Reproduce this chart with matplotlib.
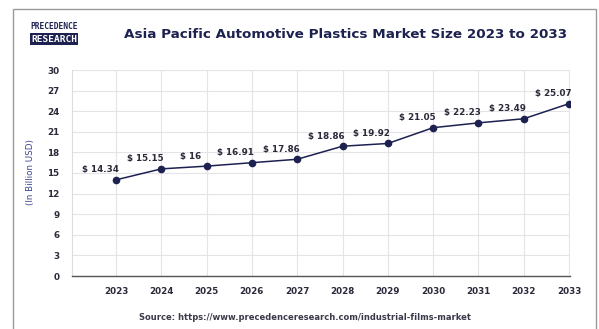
import numpy as np
import matplotlib.pyplot as plt
from matplotlib.patches import Rectangle

years = [2023, 2024, 2025, 2026, 2027, 2028, 2029, 2030, 2031, 2032, 2033]
# point heights as drawn in the picture
values = [14.0, 15.6, 16.0, 16.5, 17.0, 18.9, 19.3, 21.6, 22.3, 22.9, 25.1]
# value labels as printed
labels = ['14.34', '15.15', '16', '16.91', '17.86', '18.86', '19.92',
          '21.05', '22.23', '23.49', '25.07']
yticks = np.arange(0, 31, 3)

navy = '#1d2150'
fig = plt.figure(figsize=(5.99, 3.29), dpi=100)
fig.patch.set_facecolor('white')

# outer frame
fig.patches.append(Rectangle((13/599, -0.01), (596-13)/599, 1 - 9/329 + 0.01,
                             transform=fig.transFigure, fill=False,
                             edgecolor='#9a9a9a', lw=1.0))

ax = fig.add_axes([72/599, 1 - 276/329, (570-72)/599, (276-70)/329])
ax.plot(years, values, color=navy, lw=1.1, marker='o', markersize=4.5,
        markerfacecolor=navy, markeredgecolor=navy, zorder=3)
for x, y, t in zip(years, values, labels):
    ax.annotate('$ ' + t, (x, y), xytext=(-11.5, 7.2), textcoords='offset points',
                ha='center', va='center', fontsize=6.3, fontweight='bold',
                color='#2a2a3a')

ax.set_xlim(years[0] - 0.97, years[-1] + 0.02)
ax.set_ylim(0, 30)
ax.set_xticks(years)
ax.set_yticks(yticks)
ax.tick_params(axis='both', length=0, labelsize=6.3, colors='#2a2a3a')
for lab in ax.get_xticklabels() + ax.get_yticklabels():
    lab.set_fontweight('bold')
ax.tick_params(axis='x', pad=8)
ax.tick_params(axis='y', pad=9)
ax.grid(True, color='#e3e3e8', lw=0.8)
ax.set_axisbelow(True)
for s in ['top', 'right']:
    ax.spines[s].set_visible(False)
ax.spines['left'].set_color('#dcdce2')
ax.spines['bottom'].set_color('#555555')
ax.spines['bottom'].set_linewidth(1.0)

fig.text(31/599, 1 - 172/329, '(In Billion USD)', rotation=90, ha='center',
         va='center', fontsize=6.3, color='#3a4590')

fig.text(346/599, 1 - 34/329, 'Asia Pacific Automotive Plastics Market Size 2023 to 2033',
         ha='center', va='center', fontsize=9.7, fontweight='bold', color=navy)

# logo
fig.patches.append(Rectangle((30/599, 1 - 45/329), 48/599, 12/329,
                             transform=fig.transFigure, facecolor=navy,
                             edgecolor='none'))
fig.text(54/599, 1 - 26.5/329, 'PRECEDENCE', ha='center', va='center',
         fontsize=5.7, color=navy, fontfamily='DejaVu Sans Mono', fontweight='bold')
fig.text(54/599, 1 - 39/329, 'RESEARCH', ha='center', va='center',
         fontsize=6.8, color='white', fontfamily='DejaVu Sans Mono', fontweight='bold')

fig.text(305/599, 1 - 318/329, 'Source: https://www.precedenceresearch.com/industrial-films-market',
         ha='center', va='center', fontsize=6.0, fontweight='bold', color='#3a3a4a')

fig.savefig('out.png', dpi=100)
